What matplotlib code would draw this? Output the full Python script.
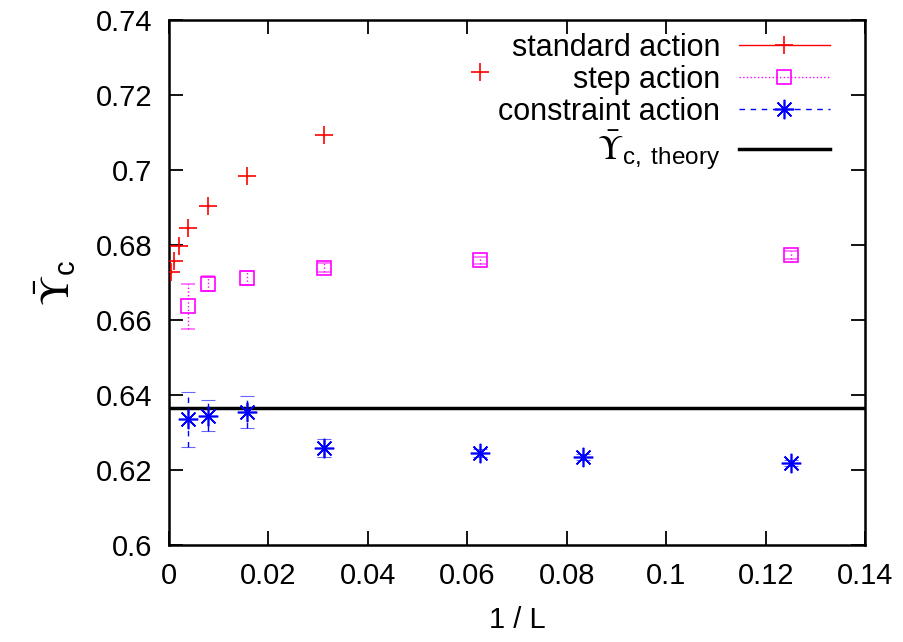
import numpy as np
import matplotlib.pyplot as plt
from matplotlib.lines import Line2D
from matplotlib.ticker import MultipleLocator, FormatStrFormatter

plt.rcParams['font.family'] = ['Liberation Sans', 'DejaVu Sans']
plt.rcParams['mathtext.fontset'] = 'custom'
plt.rcParams['mathtext.rm'] = 'STIXGeneral'
plt.rcParams['mathtext.it'] = 'STIXGeneral:italic'
plt.rcParams['mathtext.sf'] = 'Liberation Sans'

# data, x = 1/L
std_x = [0.0625, 0.03125, 0.015625, 0.0078125, 0.00390625, 0.001953, 0.000977, 0.000488]
std_y = [0.7261, 0.7094, 0.6984, 0.6905, 0.6845, 0.6797, 0.6758, 0.6729]
std_err = [0.0003, 0.0003, 0.0003, 0.0003, 0.0003, 0.0003, 0.0003, 0.0003]

step_x = [0.125, 0.0625, 0.03125, 0.015625, 0.0078125, 0.00390625]
step_y = [0.6773, 0.6759, 0.6739, 0.6711, 0.6696, 0.6637]
step_err = [0.001, 0.001, 0.0012, 0.0019, 0.002, 0.006]

con_x = [0.125, 0.083333, 0.0625, 0.03125, 0.015625, 0.0078125, 0.00390625]
con_y = [0.6218, 0.6234, 0.6245, 0.6258, 0.6355, 0.6345, 0.6335]
con_err = [0.0008, 0.0008, 0.001, 0.0024, 0.0042, 0.0042, 0.0073]

theory = 0.6366

fig = plt.figure(figsize=(9.04, 6.42), dpi=100)
ax = fig.add_axes([0.187, 0.151, 0.770, 0.818])

ax.axhline(theory, color='black', lw=2.5, zorder=1)

e1 = ax.errorbar(std_x, std_y, yerr=std_err, fmt='+', color='red', ms=13, mew=1.2,
                 elinewidth=1, capsize=0, zorder=3)
e2 = ax.errorbar(step_x, step_y, yerr=step_err, fmt='s', color='#ff00ff', ms=10, mew=1.2,
                 mfc='none', elinewidth=1, capsize=5, capthick=0.8, zorder=3)
e2[2][0].set_linestyle(':')
for c in e2[1]:
    c.set_alpha(0.6)
e3 = ax.errorbar(con_x, con_y, yerr=con_err, fmt='none', ecolor='#0000ff', elinewidth=1,
                 capsize=5, capthick=0.8, zorder=3)
e3[2][0].set_linestyle((0, (4, 4)))
for c in e3[1]:
    c.set_alpha(0.6)
ax.plot(con_x, con_y, ls='none', marker=(8, 2, 0), color='#0000ff', ms=14, mew=1.2, zorder=4)

ax.set_xlim(0, 0.14)
ax.set_ylim(0.6, 0.74)
ax.xaxis.set_major_locator(MultipleLocator(0.02))
ax.yaxis.set_major_locator(MultipleLocator(0.02))
ax.xaxis.set_major_formatter(FormatStrFormatter('%g'))
ax.yaxis.set_major_formatter(FormatStrFormatter('%g'))
ax.tick_params(direction='in', length=10, width=1.3, top=True, right=True,
               labelsize=21, pad=12)
for s in ax.spines.values():
    s.set_linewidth(1.8)

ax.set_xlabel('1 / L', fontsize=21, labelpad=12)
ax.set_ylabel(r'$\bar{\Upsilon}_{\mathsf{c}}$', fontsize=30, labelpad=12)

handles = [
    Line2D([], [], color='red', lw=1, marker='+', ms=13, mew=1.2),
    Line2D([], [], color='#ff00ff', lw=1, ls=':', marker='s', ms=10, mfc='none', mew=1.2),
    Line2D([], [], color='#0000ff', lw=1, ls=(0, (4, 4)), marker=(8, 2, 0), ms=14, mew=1.2),
    Line2D([], [], color='black', lw=2.5),
]
labels = ['standard action', 'step action', 'constraint action',
          r'$\bar{\Upsilon}_{\mathsf{c,\ theory}}$']
leg = ax.legend(handles, labels, loc='upper right', bbox_to_anchor=(0.950, 0.975),
                frameon=False, fontsize=22, markerfirst=False, numpoints=1,
                handlelength=3.0, handletextpad=0.6, labelspacing=0.06,
                borderpad=0, borderaxespad=0)
for t in leg.get_texts():
    t.set_ha('right')
leg.get_texts()[3].set_fontsize(25)

fig.savefig('out.png', dpi=100)
